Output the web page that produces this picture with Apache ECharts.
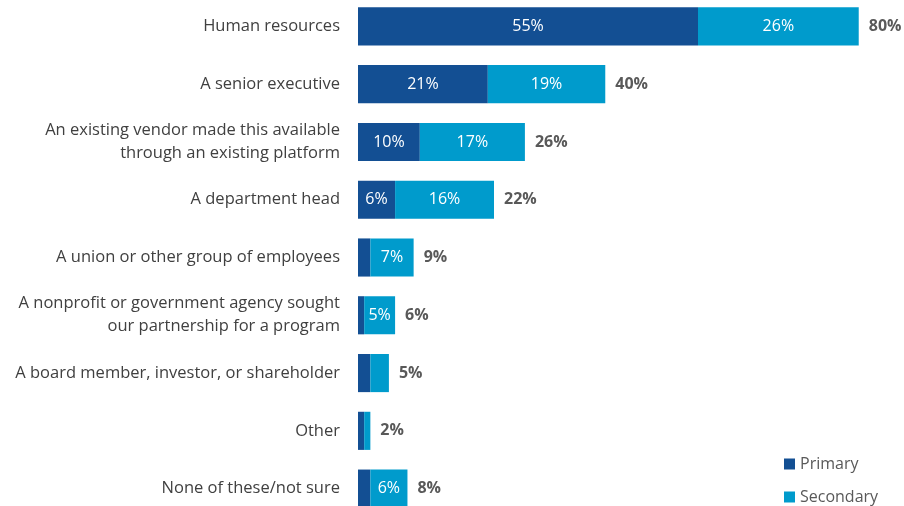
<!DOCTYPE html>
<html>
<head>
<meta charset="utf-8">
<script src="https://cdn.jsdelivr.net/npm/echarts@6/dist/echarts.min.js"></script>
<style>
  html, body { margin: 0; padding: 0; background: #fff; }
  #chart { width: 904px; height: 506px; }
</style>
</head>
<body>
<div id="chart"></div>
<script>
// categories, top to bottom
const categories = [
  "Human resources",
  "A senior executive",
  "An existing vendor made this available\nthrough an existing platform",
  "A department head",
  "A union or other group of employees",
  "A nonprofit or government agency sought\nour partnership for a program",
  "A board member, investor, or shareholder",
  "Other",
  "None of these/not sure"
];
const primary = [55, 21, 10, 6, 2, 1, 2, 1, 2];
const secondary = [26, 19, 17, 16, 7, 5, 3, 1, 6];
// totals as printed in the source
const totals = [80, 40, 26, 22, 9, 6, 5, 2, 8];

const chart = echarts.init(document.getElementById("chart"));
const font = "'Open Sans', 'Noto Sans', sans-serif";

// inside labels only when the segment is wide enough
const insideLabel = {
  show: true,
  position: "inside",
  color: "#fff",
  fontSize: 16,
  fontFamily: font,
  formatter: p => (p.value >= 5 ? p.value + "%" : "")
};

const legendText = { color: "#595959", fontSize: 16, fontFamily: font };

chart.setOption({
  animation: false,
  grid: { left: 358, width: 544, top: -2.5, height: 520, outerBoundsMode: "none", containLabel: false },
  legend: [
    {
      data: ["Primary"],
      left: 779,
      top: 451,
      itemWidth: 11,
      itemHeight: 11,
      icon: "rect",
      textStyle: legendText
    },
    {
      data: ["Secondary"],
      left: 779,
      top: 484,
      itemWidth: 11,
      itemHeight: 11,
      icon: "rect",
      textStyle: legendText
    }
  ],
  xAxis: {
    type: "value",
    min: 0,
    max: 88,
    show: false
  },
  yAxis: {
    type: "category",
    inverse: true,
    data: categories,
    axisLine: { show: false },
    axisTick: { show: false },
    axisLabel: {
      margin: 18,
      color: "#404040",
      fontSize: 16.5,
      lineHeight: 23,
      fontFamily: font
    }
  },
  series: [
    {
      name: "Primary",
      type: "bar",
      stack: "all",
      barCategoryGap: "34%",
      itemStyle: { color: "#134F93" },
      label: insideLabel,
      data: primary
    },
    {
      name: "Secondary",
      type: "bar",
      stack: "all",
      itemStyle: { color: "#009BCC" },
      label: insideLabel,
      data: secondary
    },
    {
      name: "Total",
      type: "bar",
      stack: "all",
      itemStyle: { color: "transparent" },
      label: {
        show: true,
        position: "right",
        distance: 10,
        color: "#595959",
        fontWeight: "bold",
        fontSize: 16,
        fontFamily: font,
        formatter: p => totals[p.dataIndex] + "%"
      },
      data: totals.map(() => 0)
    }
  ]
});
</script>
</body>
</html>
